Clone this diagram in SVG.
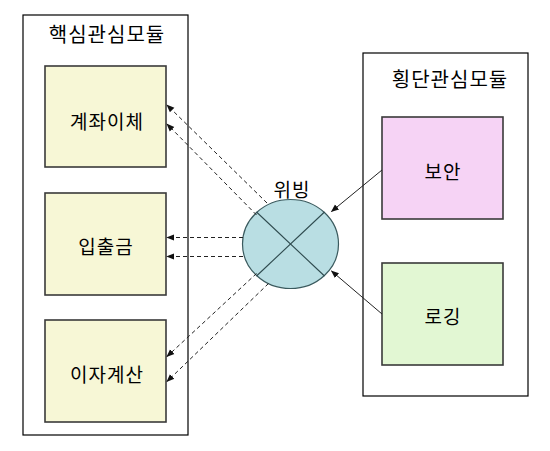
<svg xmlns="http://www.w3.org/2000/svg" width="550" height="451" viewBox="0 0 550 451">
<style>
.container{fill:#ffffff;stroke:#000000;stroke-width:1.2}
.box{stroke:#3a3a3a;stroke-width:1.6}
.core{fill:#f7f7d6}
.sec{fill:#f6d3f5}
.log{fill:#e2f7d3}
.lbl{font-family:"Noto Sans CJK KR","Noto Sans",sans-serif;font-size:19px;letter-spacing:1px;fill:#000;text-anchor:middle;dominant-baseline:central}
.title{font-size:20px}
.dash{stroke:#222;stroke-width:1;stroke-dasharray:4 3;fill:none}
.solid{stroke:#222;stroke-width:1;fill:none}
</style>
<defs>
<marker id="ah" viewBox="0 0 10 10" refX="9" refY="5" markerWidth="8" markerHeight="8" markerUnits="userSpaceOnUse" orient="auto">
<path d="M0,1 L10,5 L0,9 Z" fill="#111"/>
</marker>
</defs>
<g id="core-modules">
<rect class="container" x="23" y="15" width="165" height="420"/>
<text class="lbl title" x="107" y="33">핵심관심모듈</text>
</g>
<g id="node-transfer">
<rect class="box core" x="45" y="66" width="121" height="101"/>
<text class="lbl" x="107" y="120">계좌이체</text>
</g>
<g id="node-deposit">
<rect class="box core" x="45" y="193" width="121" height="102"/>
<text class="lbl" x="106" y="245">입출금</text>
</g>
<g id="node-interest">
<rect class="box core" x="45" y="320" width="121" height="102"/>
<text class="lbl" x="107" y="373">이자계산</text>
</g>
<g id="cross-modules">
<rect class="container" x="363" y="53" width="165" height="343"/>
<text class="lbl title" x="450" y="78">횡단관심모듈</text>
</g>
<g id="node-security">
<rect class="box sec" x="382" y="117" width="121" height="102"/>
<text class="lbl" x="443" y="170">보안</text>
</g>
<g id="node-logging">
<rect class="box log" x="382" y="263" width="121" height="102"/>
<text class="lbl" x="443" y="315">로깅</text>
</g>
<g id="node-weaving">
<ellipse cx="290.5" cy="244" rx="48" ry="44.5" fill="#b9dee3" stroke="#3a5a5e" stroke-width="1.2"/>
<line x1="256.5" y1="212" x2="324.5" y2="276" stroke="#2e4a4e" stroke-width="1.1"/>
<line x1="324.5" y1="212" x2="256.5" y2="276" stroke="#2e4a4e" stroke-width="1.1"/>
<text class="lbl" x="292" y="188">위빙</text>
</g>
<g id="connectors">
<line class="dash" x1="267" y1="203" x2="167" y2="105" marker-end="url(#ah)"/>
<line class="dash" x1="256.5" y1="215" x2="167" y2="124" marker-end="url(#ah)"/>
<line class="dash" x1="243" y1="237.5" x2="167" y2="237.5" marker-end="url(#ah)"/>
<line class="dash" x1="243" y1="256.5" x2="167" y2="256.5" marker-end="url(#ah)"/>
<line class="dash" x1="256.5" y1="273.5" x2="167" y2="356.5" marker-end="url(#ah)"/>
<line class="dash" x1="268.5" y1="283.5" x2="167" y2="381.5" marker-end="url(#ah)"/>
<line class="solid" x1="382" y1="170" x2="331.5" y2="211.5" marker-end="url(#ah)"/>
<line class="solid" x1="382" y1="314" x2="331.5" y2="271" marker-end="url(#ah)"/>
</g>
</svg>
